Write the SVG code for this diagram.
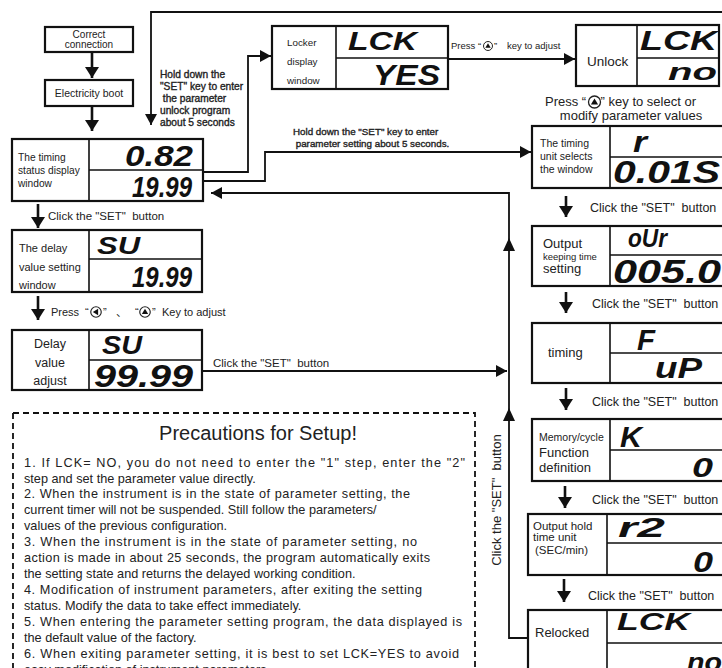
<svg xmlns="http://www.w3.org/2000/svg" width="722" height="668" viewBox="0 0 722 668">
<defs>
<style>
.box{fill:#fff;stroke:#111;stroke-width:2.2}
.dv{stroke:#111;stroke-width:1.6;fill:none}
.ln{stroke:#111;stroke-width:1.8;fill:none}
.stem{stroke:#111;stroke-width:2.6;fill:none}
.dash{stroke:#111;stroke-width:1.8;fill:none;stroke-dasharray:6 4}
.t{font-family:"Liberation Sans",Arial,sans-serif;fill:#222;white-space:pre}
.hb{font-family:"Liberation Sans",Arial,sans-serif;fill:#222;stroke:#222;stroke-width:0.35;white-space:pre}
.seg{font-family:"Liberation Sans",Arial,sans-serif;font-weight:bold;font-style:italic;fill:#111}
</style>
<marker id="ah" markerUnits="userSpaceOnUse" markerWidth="12" markerHeight="12" refX="11" refY="6" orient="auto"><path d="M0,0 L11,6 L0,12 z" fill="#111"/></marker>
<marker id="ahd" markerUnits="userSpaceOnUse" markerWidth="12" markerHeight="14" refX="11" refY="7" orient="auto"><path d="M0,0 L11,7 L0,14 z" fill="#111"/></marker>
<g id="kup"><circle r="5" fill="none" stroke="#222" stroke-width="1.1"/><path d="M0,-3 L3,2 L-3,2 z" fill="#111"/></g>
<g id="kleft"><circle r="5" fill="none" stroke="#222" stroke-width="1.1"/><path d="M-3,0 L2,-3 L2,3 z" fill="#111"/></g>
</defs>
<rect width="722" height="668" fill="#fff"/>

<g id="connectors">
<path class="ln" d="M724,12 H151 V125" marker-end="url(#ah)"/>
<path class="stem" d="M92,53 V78" marker-end="url(#ahd)"/>
<path class="stem" d="M92,107 V131" marker-end="url(#ahd)"/>
<path class="ln" d="M203,172 H248 V56 H271" marker-end="url(#ah)"/>
<path class="ln" d="M448,59 H575" marker-end="url(#ah)"/>
<path class="ln" d="M203,181 H265 V152 H531" marker-end="url(#ah)"/>
<path class="ln" d="M528,638 H509 V193 H211" marker-end="url(#ah)"/>
<path d="M509,238 L515,251 L503,251 z" fill="#111"/>
<path d="M509,408 L515,421 L503,421 z" fill="#111"/>
<path class="stem" d="M38,204 V228" marker-end="url(#ahd)"/>
<path class="stem" d="M38,296 V320" marker-end="url(#ahd)"/>
<path class="ln" d="M202,371 H507" marker-end="url(#ah)"/>
<path class="stem" d="M566,196 V217" marker-end="url(#ahd)"/>
<path class="stem" d="M566,292 V313" marker-end="url(#ahd)"/>
<path class="stem" d="M566,388 V410" marker-end="url(#ahd)"/>
<path class="stem" d="M565,486 V508" marker-end="url(#ahd)"/>
<path class="stem" d="M564,579 V602" marker-end="url(#ahd)"/>
<text class="hb" font-size="10.2"><tspan x="160" y="78">Hold down the</tspan><tspan x="160" y="90">"SET" key to enter</tspan><tspan x="160" y="101.5"> the parameter</tspan><tspan x="160" y="113.5">unlock program</tspan><tspan x="160" y="125.5">about 5 seconds</tspan></text>
<text class="hb" font-size="9.8"><tspan x="293" y="134.5">Hold down the "SET" key to enter</tspan><tspan x="293" y="146.5"> parameter setting about 5 seconds.</tspan></text>
<text class="t" font-size="9.5" y="49"><tspan x="451">Press</tspan><tspan x="478">“</tspan><tspan x="494">”</tspan><tspan x="507">key to adjust</tspan></text>
<use href="#kup" transform="translate(488,46) scale(0.9)"/>
<text class="t" font-size="11.5" x="48" y="220">Click the "SET"  button</text>
<text class="t" font-size="11" y="316"><tspan x="51">Press</tspan><tspan x="85">“</tspan><tspan x="103">”</tspan><tspan x="116" font-family="'Noto Sans CJK SC',sans-serif">、</tspan><tspan x="135">“</tspan><tspan x="152">”</tspan><tspan x="162">Key to adjust</tspan></text>
<use href="#kleft" transform="translate(96,312) scale(1.05)"/>
<use href="#kup" transform="translate(145,312) scale(1.05)"/>
<text class="t" font-size="11.5" x="213" y="367">Click the "SET"  button</text>
<text class="t" font-size="13" x="545" y="106">Press “    ” key to select or</text>
<use href="#kup" transform="translate(594.5,102) scale(1.2)"/>
<text class="t" font-size="13" x="631" y="119.5" text-anchor="middle">modify parameter values</text>
<text class="t" font-size="12.5" x="590" y="211.5">Click the "SET"  button</text>
<text class="t" font-size="12.5" x="592" y="307.5">Click the "SET"  button</text>
<text class="t" font-size="12.5" x="592" y="406">Click the "SET"  button</text>
<text class="t" font-size="12.5" x="592" y="504">Click the "SET"  button</text>
<text class="t" font-size="12.5" x="588" y="599.5">Click the "SET"  button</text>
<text class="t" font-size="13" transform="translate(501,500) rotate(-90)" text-anchor="middle">Click the "SET"  button</text>
</g>

<g id="correct-connection">
<rect class="box" x="45" y="27" width="88" height="25"/>
<text class="t" font-size="10" text-anchor="middle"><tspan x="89" y="38">Correct</tspan><tspan x="89" y="47.5">connection</tspan></text>
</g>

<g id="electricity-boot">
<rect class="box" x="45" y="80" width="88" height="26"/>
<text class="t" font-size="10.5" x="89" y="96.5" text-anchor="middle">Electricity boot</text>
</g>

<g id="timing-status">
<rect class="box" x="12" y="139" width="191" height="62"/>
<path class="dv" d="M89,139 V201 M89,170 H203"/>
<text class="t" font-size="10.2"><tspan x="18" y="161">The timing</tspan><tspan x="18" y="174">status display</tspan><tspan x="18" y="186.5">window</tspan></text>
<text class="seg" x="125" y="166" font-size="29" textLength="68" lengthAdjust="spacingAndGlyphs">0.82</text>
<text class="seg" x="132" y="197" font-size="30" textLength="60" lengthAdjust="spacingAndGlyphs">19.99</text>
</g>

<g id="delay-setting">
<rect class="box" x="12" y="230" width="190" height="62"/>
<path class="dv" d="M89,230 V292 M89,259 H202"/>
<text class="t" font-size="11"><tspan x="19" y="252">The delay</tspan><tspan x="19" y="270.5">value setting</tspan><tspan x="19" y="289">window</tspan></text>
<text class="seg" x="97" y="254" font-size="23" textLength="43" lengthAdjust="spacingAndGlyphs">SU</text>
<text class="seg" x="132" y="287" font-size="30" textLength="60" lengthAdjust="spacingAndGlyphs">19.99</text>
</g>

<g id="delay-adjust">
<rect class="box" x="12" y="330" width="190" height="60"/>
<path class="dv" d="M89,330 V390 M89,360 H202"/>
<text class="t" font-size="12.5" text-anchor="middle"><tspan x="50" y="347.5">Delay</tspan><tspan x="50" y="366.5">value</tspan><tspan x="50" y="385">adjust</tspan></text>
<text class="seg" x="102" y="354" font-size="25" textLength="40" lengthAdjust="spacingAndGlyphs">SU</text>
<text class="seg" x="94" y="387" font-size="31" textLength="99" lengthAdjust="spacingAndGlyphs">99.99</text>
</g>

<g id="locker-display">
<rect class="box" x="272" y="26" width="176" height="63"/>
<path class="dv" d="M336,26 V89 M336,58 H448"/>
<text class="t" font-size="9.8"><tspan x="287" y="45.5">Locker</tspan><tspan x="287" y="64.5">display</tspan><tspan x="287" y="83.5">window</tspan></text>
<text class="seg" x="348" y="50" font-size="25" textLength="69" lengthAdjust="spacingAndGlyphs">LCK</text>
<text class="seg" x="373" y="85" font-size="30" textLength="67" lengthAdjust="spacingAndGlyphs">YES</text>
</g>

<g id="unlock">
<rect class="box" x="576" y="25" width="143" height="61"/>
<path class="dv" d="M637,25 V86 M637,58 H719"/>
<text class="t" font-size="13.5" x="587" y="66">Unlock</text>
<text class="seg" x="640" y="50" font-size="27" textLength="77" lengthAdjust="spacingAndGlyphs">LCK</text>
<text class="seg" x="668" y="80" font-size="24" textLength="49" lengthAdjust="spacingAndGlyphs">no</text>
</g>

<g id="unit-select">
<rect class="box" x="532" y="126" width="200" height="62"/>
<path class="dv" d="M610,126 V188 M610,157 H732"/>
<text class="t" font-size="10.5"><tspan x="540" y="147">The timing</tspan><tspan x="540" y="160">unit selects</tspan><tspan x="540" y="173">the window</tspan></text>
<text class="seg" x="633" y="152" font-size="30" textLength="14" lengthAdjust="spacingAndGlyphs">r</text>
<text class="seg" x="613" y="183" font-size="31" textLength="107" lengthAdjust="spacingAndGlyphs">0.01S</text>
</g>

<g id="output-keeping">
<rect class="box" x="532" y="226" width="200" height="60"/>
<path class="dv" d="M610,226 V286 M610,255 H732"/>
<text class="t" font-size="13"><tspan x="543" y="247.5">Output</tspan><tspan x="543" y="260" font-size="9.5">keeping time</tspan><tspan x="543" y="272.5">setting</tspan></text>
<text class="seg" x="628" y="247" font-size="26" textLength="39" lengthAdjust="spacingAndGlyphs">oUr</text>
<text class="seg" x="613" y="283" font-size="34" textLength="108" lengthAdjust="spacingAndGlyphs">005.0</text>
</g>

<g id="timing">
<rect class="box" x="532" y="323" width="200" height="60"/>
<path class="dv" d="M610,323 V383 M610,353 H732"/>
<text class="t" font-size="13" x="548" y="357">timing</text>
<text class="seg" x="637" y="350" font-size="30" textLength="18" lengthAdjust="spacingAndGlyphs">F</text>
<text class="seg" x="655" y="378" font-size="29" textLength="47" lengthAdjust="spacingAndGlyphs">uP</text>
</g>

<g id="memory-cycle">
<rect class="box" x="532" y="419" width="200" height="62"/>
<path class="dv" d="M610,419 V481 M610,450 H732"/>
<text class="t" font-size="13"><tspan x="539" y="441" font-size="10.5">Memory/cycle</tspan><tspan x="539" y="456.5">Function</tspan><tspan x="539" y="471.5">definition</tspan></text>
<text class="seg" x="620" y="447" font-size="30" textLength="22" lengthAdjust="spacingAndGlyphs">K</text>
<text class="seg" x="692" y="477" font-size="28" textLength="21" lengthAdjust="spacingAndGlyphs">0</text>
</g>

<g id="output-hold-unit">
<rect class="box" x="528" y="514" width="204" height="61"/>
<path class="dv" d="M607,514 V575 M607,543 H732"/>
<text class="t" font-size="11.5"><tspan x="533" y="529.5">Output hold</tspan><tspan x="533" y="541">time unit</tspan><tspan x="535" y="554">(SEC/min)</tspan></text>
<text class="seg" x="618" y="537" font-size="28" textLength="47" lengthAdjust="spacingAndGlyphs">r2</text>
<text class="seg" x="693" y="572" font-size="30" textLength="20" lengthAdjust="spacingAndGlyphs">0</text>
</g>

<g id="relocked">
<rect class="box" x="528" y="610" width="204" height="70"/>
<path class="dv" d="M607,610 V680 M607,643 H732"/>
<text class="t" font-size="13" x="535" y="637">Relocked</text>
<text class="seg" x="617" y="630" font-size="24" textLength="73" lengthAdjust="spacingAndGlyphs">LCK</text>
<text class="seg" x="687" y="671" font-size="26" textLength="35" lengthAdjust="spacingAndGlyphs">no</text>
</g>

<g id="precautions">
<path class="dash" d="M13,413 H475 V672 M13,413 V672"/>
<text class="t" font-size="20" x="258" y="440" text-anchor="middle">Precautions for Setup!</text>
<g class="t" font-size="12.7">
<text x="24" y="466.5" textLength="441" lengthAdjust="spacing">1.  If LCK= NO,  you do not need to enter the "1" step,  enter the "2"</text>
<text x="24" y="482.5">step and set the parameter value directly.</text>
<text x="24" y="498.4" textLength="386" lengthAdjust="spacing">2.  When the instrument is in the state of parameter setting,  the</text>
<text x="24" y="514.4">current timer will not be suspended.  Still follow the parameters/</text>
<text x="24" y="530.3">values of the previous configuration.</text>
<text x="24" y="546.3" textLength="393" lengthAdjust="spacing">3.  When the instrument is in the state of parameter setting,  no</text>
<text x="24" y="562.2" textLength="406" lengthAdjust="spacing">action is made in about 25 seconds,   the program automatically exits</text>
<text x="24" y="578.2">the setting state and returns the delayed working condition.</text>
<text x="24" y="594.1" textLength="398" lengthAdjust="spacing">4.  Modification of instrument parameters,  after exiting the setting</text>
<text x="24" y="610.1">status.  Modify the data to take effect immediately.</text>
<text x="24" y="626" textLength="438" lengthAdjust="spacing">5.  When entering the parameter setting program,  the data displayed is</text>
<text x="24" y="642">the default value of the factory.</text>
<text x="24" y="657.9" textLength="435" lengthAdjust="spacing">6.  When exiting parameter setting,  it is best to set LCK=YES to avoid</text>
<text x="24" y="673.9">easy modification of instrument parameters.</text>
</g>
</g>
</svg>
